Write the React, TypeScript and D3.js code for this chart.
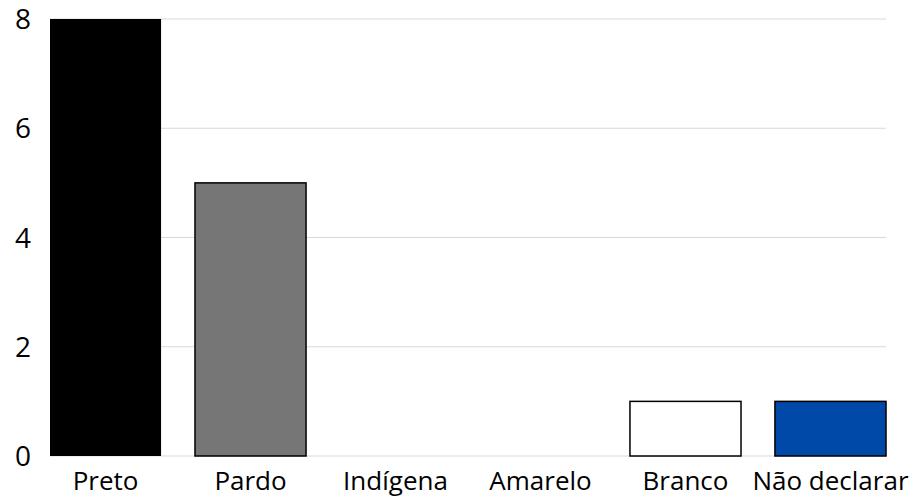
import React from "react";
import * as d3 from "d3";

const categories = ["Preto", "Pardo", "Indígena", "Amarelo", "Branco", "Não declarar"];
const values = [8, 5, 0, 0, 1, 1];
const colors = ["#000000", "#767676", "#ffffff", "#ffffff", "#ffffff", "#0049a9"];
const strokes = ["none", "#000000", "none", "none", "#000000", "#000000"];
const yTicks = [0, 2, 4, 6, 8];

const W = 915;
const H = 499;
const left = 50;
const right = 886;
const top = 19;
const bottom = 456;

export default function App() {
  const x = d3.scaleBand<string>().domain(categories).range([left, right]).paddingInner(0.234).paddingOuter(0);
  const y = d3.scaleLinear().domain([0, 8]).range([bottom, top]);
  const font = "'Open Sans', sans-serif";
  return (
    <svg width={W} height={H} style={{ position: "absolute", left: 0, top: 0, background: "#fff" }}>
      {yTicks.map((t) => (
        <g key={t}>
          <line x1={left} x2={right} y1={y(t)} y2={y(t)} stroke="#d9d9d9" strokeWidth={1} />
          <text x={31} y={y(t)} dy="0.36em" textAnchor="end" fontFamily={font} fontSize={28} fill="#000">
            {t}
          </text>
        </g>
      ))}
      {categories.map((c, i) =>
        values[i] > 0 ? (
          <rect
            key={c}
            x={x(c)!}
            y={y(values[i])}
            width={x.bandwidth()}
            height={y(0) - y(values[i])}
            fill={colors[i]}
            stroke={strokes[i]}
            strokeWidth={1.5}
          />
        ) : null
      )}
      {categories.map((c) => (
        <text
          key={c}
          x={x(c)! + x.bandwidth() / 2}
          y={490}
          textAnchor="middle"
          fontFamily={font}
          fontSize={26}
          fill="#000"
        >
          {c}
        </text>
      ))}
    </svg>
  );
}
